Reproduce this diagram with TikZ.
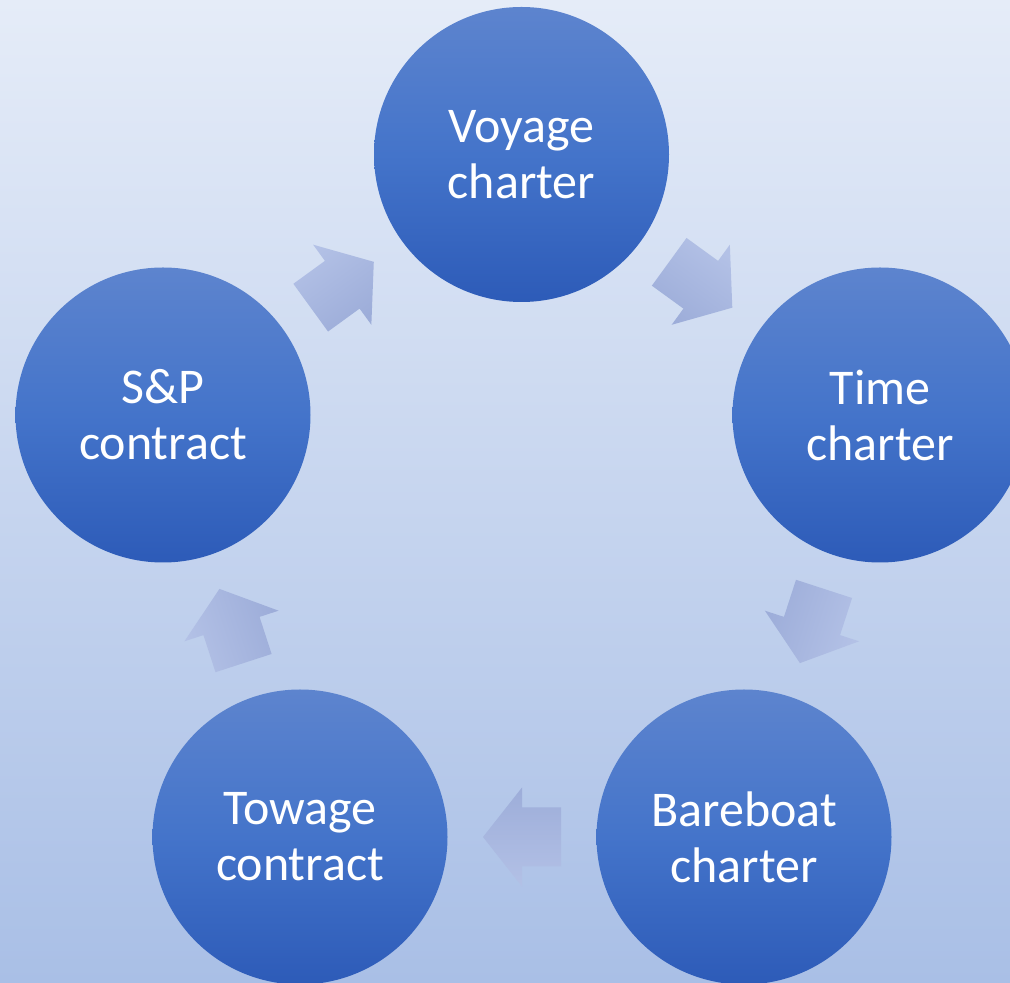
\documentclass[tikz,border=0pt]{standalone}
\usepackage{fontspec}
\setmainfont{Carlito}
\usetikzlibrary{calc}
\definecolor{bgtop}{HTML}{E5ECF8}
\definecolor{bgbot}{HTML}{A9BFE6}
\definecolor{ctop}{HTML}{5D84CE}
\definecolor{cmid}{HTML}{4474CA}
\definecolor{cbot}{HTML}{2D5BB8}
\definecolor{alight}{HTML}{B3C1E6}
\definecolor{adark}{HTML}{9DADD9}
\newcommand{\cyclearrow}[3]{%
  \begin{scope}[shift={($(#1)!0.5!(#2)$)}, rotate=#3]
    \shade[flowarrow, shading angle=#3] (-39,-29.5) -- (0,-29.5) -- (0,-49.5) -- (39,0)
      -- (0,49.5) -- (0,29.5) -- (-39,29.5) -- cycle;
  \end{scope}}
\begin{document}
\begin{tikzpicture}[x=1pt,y=1pt,
  stage/.style={circle, minimum size=295pt, inner sep=0pt,
    top color=ctop, bottom color=cbot, middle color=cmid,
    text=white, font=\fontsize{50}{56}\selectfont, align=center},
  flowarrow/.style={top color=alight, bottom color=adark, draw=none}]
\useasboundingbox (0,0) rectangle (1010,983);
\clip (0,0) rectangle (1010,983);
\shade[top color=bgtop, bottom color=bgbot] (0,0) rectangle (1010,983);
\node[stage] (voy) at (521.5,828.5) {Voyage\\charter};
\node[stage] (time) at (880,568) {Time\\charter};
\node[stage] (bare) at (744,146) {Bareboat\\charter};
\node[stage] (tow) at (300,146) {Towage\\contract};
\node[stage] (sp) at (163,568) {S\&P\\contract};
\cyclearrow{sp}{voy}{36}
\cyclearrow{voy}{time}{-36}
\cyclearrow{time}{bare}{-108}
\cyclearrow{bare}{tow}{180}
\cyclearrow{tow}{sp}{108}
\end{tikzpicture}
\end{document}
